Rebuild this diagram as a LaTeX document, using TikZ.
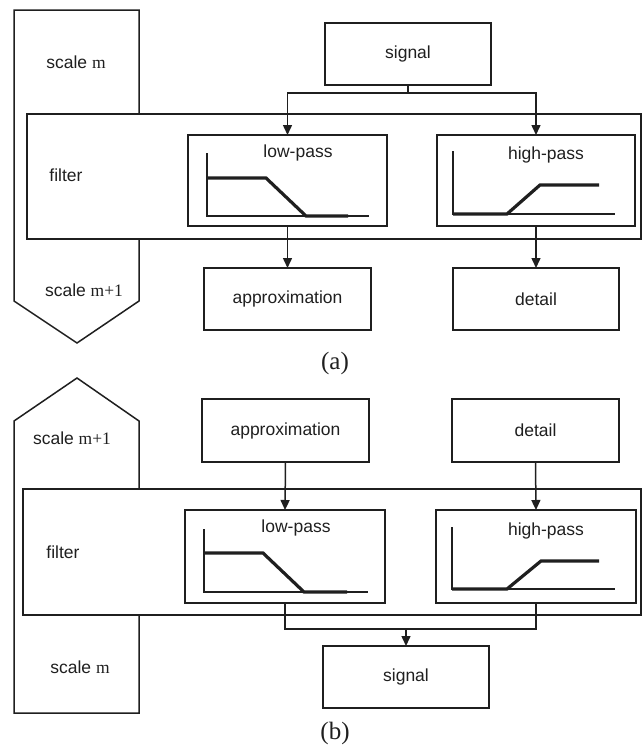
\documentclass[tikz,border=0pt]{standalone}
\usepackage{fontspec}
\setmainfont{Liberation Sans}
\newfontfamily\tms{Liberation Serif}
\usetikzlibrary{arrows.meta}
\begin{document}
\begin{tikzpicture}[x=1pt,y=-1pt, line width=1.5pt, color={black!88},
  box/.style={draw, line width=1.5pt, inner sep=0pt, outer sep=0pt},
  lbl/.style={font=\fontsize{17.5}{20}\selectfont, inner sep=0pt},
  figcap/.style={font=\tms\fontsize{25}{28}\selectfont, inner sep=0pt},
  arr/.style={-{Triangle[length=10pt,width=9pt]}, line width=1.5pt},
  resp/.style={line width=3.2pt},
  ]
\useasboundingbox (0,0) rectangle (643,747);

% ---------------- panel (a) ----------------
\draw (139,114) -- (139,10) -- (14,10) -- (14,301) -- (77,343) -- (139,301) -- (139,239);
\node[box, minimum width=614pt, minimum height=125pt] (filtA) at (334,176.5) {};
\node[box, minimum width=166pt, minimum height=62pt] (sigA) at (408,54) {};
\node[lbl] (sigAt) at (sigA.center) {signal};
\node[box, minimum width=199pt, minimum height=91pt] (lpA) at (287.5,180.5) {};
\node[box, minimum width=198pt, minimum height=91pt] (hpA) at (536,180.5) {};
\node[box, minimum width=167pt, minimum height=62pt] (apA) at (287.5,299) {};
\node[lbl] (apAt) at (apA.center) {approximation};
\node[box, minimum width=166pt, minimum height=62pt] (dtA) at (536,299) {};
\node[lbl] (dtAt) at (dtA.center) {detail};

\coordinate (jA) at (408,93);
\draw (sigA.south) -- (jA);
\draw[arr] (jA) -| (lpA.north);
\draw[arr] (jA) -| (hpA.north);
\draw[arr] (lpA.south) -- (apA.north);
\draw[arr] (hpA.south) -- (dtA.north);

% low-pass response (a)
\draw (207,153) -- (207,216) -- (369,216);
\draw[resp] (207,178) -- (266,178) -- (306,216) -- (348,216);
\node[lbl] (lpAt) at (298,153) {low-pass};
% high-pass response (a)
\draw (453,151) -- (453,214) -- (615,214);
\draw[resp] (453,214) -- (507,214) -- (540,185) -- (599,185);
\node[lbl] (hpAt) at (546,155) {high-pass};

\node[lbl] (scA) at (76,62) {scale {\tms m}};
\node[lbl] (flA) at (66,175) {filter};
\node[lbl] (scA1) at (84,290) {scale {\tms m+1}};
\node[figcap] (capA) at (335,363) {(a)};

% ---------------- panel (b) ----------------
\draw (139,489) -- (139,421) -- (77,378) -- (14,421) -- (14,713) -- (139,713) -- (139,615);
\node[box, minimum width=618pt, minimum height=126pt] (filtB) at (332,552) {};
\node[box, minimum width=167pt, minimum height=63pt] (apB) at (285.5,430.5) {};
\node[lbl] (apBt) at (apB.center) {approximation};
\node[box, minimum width=167pt, minimum height=63pt] (dtB) at (535.5,430.5) {};
\node[lbl] (dtBt) at (dtB.center) {detail};
\node[box, minimum width=200pt, minimum height=93pt] (lpB) at (285,556.5) {};
\node[box, minimum width=200pt, minimum height=93pt] (hpB) at (536,556.5) {};
\node[box, minimum width=166pt, minimum height=62pt] (sigB) at (406,677) {};
\node[lbl] (sigBt) at (sigB.center) {signal};

\draw[arr] (apB.south) -- (lpB.north);
\draw[arr] (dtB.south) -- (hpB.north);
\coordinate (jB) at (406,629);
\draw (lpB.south) |- (jB);
\draw (hpB.south) |- (jB);
\draw[arr] (jB) -- (sigB.north);

% low-pass response (b)
\draw (204,529) -- (204,592) -- (368,592);
\draw[resp] (204,553) -- (263,553) -- (304,592) -- (347,592);
\node[lbl] (lpBt) at (296,528) {low-pass};
% high-pass response (b)
\draw (452,527) -- (452,589) -- (615,589);
\draw[resp] (452,589) -- (507,589) -- (541,561) -- (599,561);
\node[lbl] (hpBt) at (546,531) {high-pass};

\node[lbl] (scB1) at (72,438) {scale {\tms m+1}};
\node[lbl] (flB) at (63,552) {filter};
\node[lbl] (scB) at (80,667) {scale {\tms m}};
\node[figcap] (capB) at (335,733) {(b)};
\end{tikzpicture}
\end{document}
